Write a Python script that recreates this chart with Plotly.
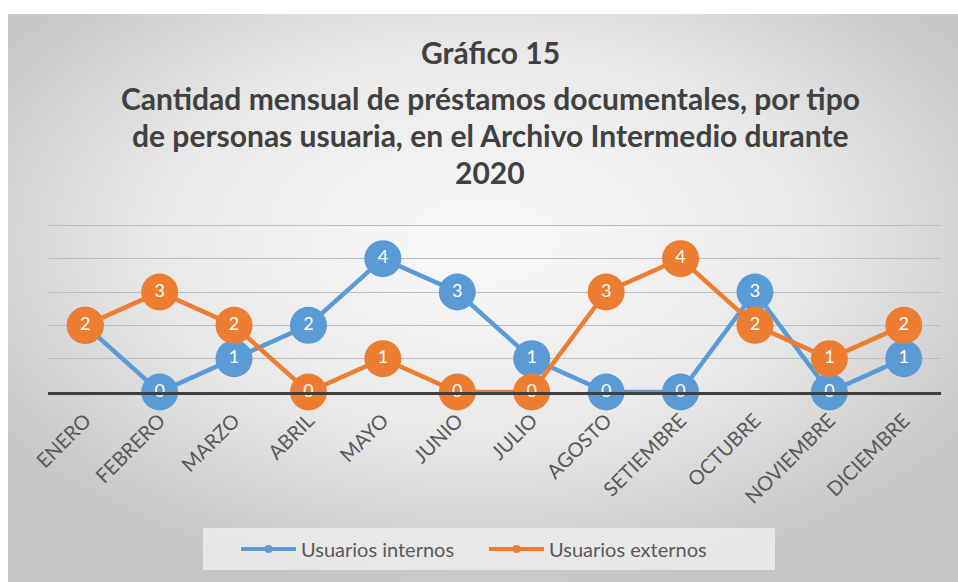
import base64
import plotly.graph_objects as go

meses = ["ENERO", "FEBRERO", "MARZO", "ABRIL", "MAYO", "JUNIO", "JULIO",
         "AGOSTO", "SETIEMBRE", "OCTUBRE", "NOVIEMBRE", "DICIEMBRE"]
internos = [2, 0, 1, 2, 4, 3, 1, 0, 0, 3, 0, 1]
externos = [2, 3, 2, 0, 1, 0, 0, 3, 4, 2, 1, 2]

titulo = ["Gráfico 15",
          "Cantidad mensual de préstamos documentales, por tipo",
          "de personas usuaria, en el Archivo Intermedio durante",
          "2020"]

W, H = 958, 582
L, R, T, B = 48, 17, 222, 190
PW, PH = W - L - R, H - T - B

def px_x(p):
    return (p - L) / PW

def px_y(p):
    return (H - B - p) / PH

BLUE = "#5B9BD5"
ORANGE = "#ED7D31"
FONT = "Lato"

svg = ('<svg xmlns="http://www.w3.org/2000/svg" width="950" height="568" viewBox="0 0 950 568" preserveAspectRatio="none">'
       '<defs><radialGradient id="g" cx="50%" cy="40%" r="62%">'
       '<stop offset="0%" stop-color="#f9f9f9"/>'
       '<stop offset="55%" stop-color="#e9e9e9"/>'
       '<stop offset="100%" stop-color="#c6c6c6"/>'
       '</radialGradient></defs>'
       '<rect x="0" y="0" width="950" height="568" fill="url(#g)"/></svg>')
src = "data:image/svg+xml;base64," + base64.b64encode(svg.encode()).decode()

fig = go.Figure()

for name, vals, col in [("Usuarios internos", internos, BLUE),
                        ("Usuarios externos", externos, ORANGE)]:
    fig.add_trace(go.Scatter(
        x=meses, y=vals, mode="lines+markers+text",
        line=dict(color=col, width=4.5),
        marker=dict(size=37, color=col),
        text=[str(v) for v in vals], textposition="middle center",
        textfont=dict(color="white", size=18, family=FONT),
        cliponaxis=False, showlegend=False, name=name, hoverinfo="skip"))

for name, col in [("Usuarios internos", BLUE), ("Usuarios externos", ORANGE)]:
    fig.add_trace(go.Scatter(
        x=[None], y=[None], mode="lines+markers", name=name,
        line=dict(color=col, width=4), marker=dict(size=8, color=col)))

title_y = [52, 98, 135, 172]
for txt, yp in zip(titulo, title_y):
    fig.add_annotation(text="<b>" + txt + "</b>", xref="paper", yref="paper",
                       x=px_x(490), y=px_y(yp), showarrow=False,
                       xanchor="center", yanchor="middle",
                       font=dict(family=FONT, size=30, color="#404040"))

fig.add_layout_image(dict(source=src, xref="paper", yref="paper",
                          x=px_x(8), y=px_y(14), sizex=950 / PW, sizey=568 / PH,
                          xanchor="left", yanchor="top", sizing="stretch",
                          layer="below"))

fig.add_shape(type="rect", xref="paper", yref="paper",
              x0=px_x(203), x1=px_x(775), y0=px_y(528), y1=px_y(570),
              fillcolor="rgba(236,236,236,0.85)", line=dict(width=0), layer="below")

fig.update_layout(
    width=W, height=H,
    margin=dict(l=L, r=R, t=T, b=B),
    paper_bgcolor="white", plot_bgcolor="rgba(0,0,0,0)",
    legend=dict(orientation="h", x=px_x(236), xanchor="left",
                y=px_y(549), yanchor="middle",
                bgcolor="rgba(0,0,0,0)", itemwidth=55,
                entrywidth=178, entrywidthmode="pixels",
                font=dict(family=FONT, size=20, color="#595959"),
                tracegroupgap=0),
    xaxis=dict(type="category", range=[-0.5, 11.5], showgrid=False,
               showline=True, linecolor="#404040", linewidth=3,
               ticks="", tickangle=-45, ticklabelstandoff=6,
               tickfont=dict(family=FONT, size=20, color="#595959")),
    yaxis=dict(range=[0, 5.1], tickvals=[0, 1, 2, 3, 4, 5], showticklabels=False,
               showgrid=True, gridcolor="#bdbdbd", gridwidth=1,
               zeroline=False, showline=False),
)

fig.write_html("out.html", config={"displayModeBar": False},
               post_script="document.body.style.margin='0';")
